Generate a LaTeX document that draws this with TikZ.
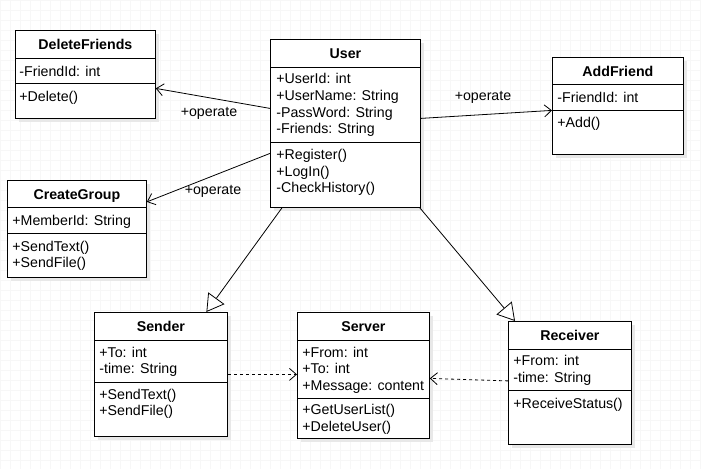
\documentclass[tikz,border=0pt]{standalone}
\usepackage{fontspec}
\setmainfont{Liberation Sans}
\usetikzlibrary{arrows.meta, shadows}

\begin{document}
\begin{tikzpicture}[
    x=1pt, y=-1pt,
    line width=0.8pt,
    font=\fontsize{14.2}{17}\selectfont
  ]

  % Styles
  \tikzstyle{classbox}=[draw, fill=white, anchor=north west, inner sep=0pt, drop shadow={shadow xshift=4pt, shadow yshift=-4pt, fill=black!9, opacity=1}]
  \tikzstyle{classname}=[font=\fontsize{14.2}{17}\selectfont\bfseries, inner sep=0pt, text height=10pt, text depth=0pt, yshift=-14pt]
  \tikzstyle{member}=[anchor=west, inner sep=0pt, text height=10pt, text depth=0pt]
  \tikzstyle{operate}=[-{Straight Barb[length=7pt, width=12pt]}]
  \tikzstyle{inherit}=[-{Triangle[open, length=17pt, width=20pt, fill=white]}]
  \tikzstyle{usage}=[dash pattern=on 3pt off 3pt, -{Straight Barb[length=7pt, width=12pt]}]
  \tikzstyle{rolename}=[inner sep=0pt]

  \useasboundingbox (0,0) rectangle (701,469);
  \fill[white] (0,0) rectangle (701,469);
  \draw[black!3, line width=0.4pt, step=10pt] (0,0) grid (701,469);

  % Class DeleteFriends
  \node[classbox, minimum width=140pt, minimum height=88pt] (delfr) at (15,30) {};
  \node[classname] (delfrT) at (delfr.north) {DeleteFriends};
  \draw (delfr.west |- 0,58) -- (delfr.east |- 0,58);
  \draw (delfr.west |- 0,83) -- (delfr.east |- 0,83);
  \node[member] (delfrA) at (19,71) {-FriendId: int};
  \node[member] (delfrM) at (19,96) {+Delete()};

  % Class CreateGroup
  \node[classbox, minimum width=139pt, minimum height=97pt] (cgroup) at (7,180) {};
  \node[classname] (cgroupT) at (cgroup.north) {CreateGroup};
  \draw (cgroup.west |- 0,207) -- (cgroup.east |- 0,207);
  \draw (cgroup.west |- 0,233) -- (cgroup.east |- 0,233);
  \node[member] (cgroupA) at (12,220) {+MemberId: String};
  \node[member] (cgroupM1) at (12,246) {+SendText()};
  \node[member] (cgroupM2) at (12,262) {+SendFile()};

  % Class User
  \node[classbox, minimum width=150pt, minimum height=168pt] (user) at (270,39) {};
  \node[classname] (userT) at (user.north) {User};
  \draw (user.west |- 0,67) -- (user.east |- 0,67);
  \draw (user.west |- 0,142) -- (user.east |- 0,142);
  \node[member] (userA1) at (276,78) {+UserId: int};
  \node[member] (userA2) at (276,95) {+UserName: String};
  \node[member] (userA3) at (276,112) {-PassWord: String};
  \node[member] (userA4) at (276,128) {-Friends: String};
  \node[member] (userM1) at (276,154) {+Register()};
  \node[member] (userM2) at (276,171) {+LogIn()};
  \node[member] (userM3) at (276,187) {-CheckHistory()};

  % Class AddFriend
  \node[classbox, minimum width=131pt, minimum height=97pt] (addfr) at (552,57) {};
  \node[classname] (addfrT) at (addfr.north) {AddFriend};
  \draw (addfr.west |- 0,84) -- (addfr.east |- 0,84);
  \draw (addfr.west |- 0,110) -- (addfr.east |- 0,110);
  \node[member] (addfrA) at (557,97) {-FriendId: int};
  \node[member] (addfrM) at (557,122) {+Add()};

  % Class Sender
  \node[classbox, minimum width=133pt, minimum height=124pt] (sender) at (94,312) {};
  \node[classname] (senderT) at (sender.north) {Sender};
  \draw (sender.west |- 0,340) -- (sender.east |- 0,340);
  \draw (sender.west |- 0,382) -- (sender.east |- 0,382);
  \node[member] (senderA1) at (99,352) {+To: int};
  \node[member] (senderA2) at (99,368) {-time: String};
  \node[member] (senderM1) at (99,394) {+SendText()};
  \node[member] (senderM2) at (99,410) {+SendFile()};

  % Class Server
  \node[classbox, minimum width=132pt, minimum height=126pt] (server) at (297,312) {};
  \node[classname] (serverT) at (server.north) {Server};
  \draw (server.west |- 0,340) -- (server.east |- 0,340);
  \draw (server.west |- 0,398) -- (server.east |- 0,398);
  \node[member] (serverA1) at (302,352) {+From: int};
  \node[member] (serverA2) at (302,368) {+To: int};
  \node[member] (serverA3) at (302,385) {+Message: content};
  \node[member] (serverM1) at (302,409) {+GetUserList()};
  \node[member] (serverM2) at (302,426) {+DeleteUser()};

  % Class Receiver
  \node[classbox, minimum width=123pt, minimum height=123pt] (recv) at (508,321) {};
  \node[classname] (recvT) at (recv.north) {Receiver};
  \draw (recv.west |- 0,349) -- (recv.east |- 0,349);
  \draw (recv.west |- 0,390) -- (recv.east |- 0,390);
  \node[member] (recvA1) at (513,360) {+From: int};
  \node[member] (recvA2) at (513,377) {-time: String};
  \node[member] (recvM1) at (513,403) {+ReceiveStatus()};

  % Associations from User
  \draw[operate] ([yshift=15pt]user.west) -- ([yshift=-14pt]delfr.east);
  \draw[operate] ([yshift=-30pt]user.west) -- ([yshift=27pt]cgroup.east);
  \draw[operate] ([yshift=5pt]user.east) -- ([yshift=-4.5pt]addfr.east -| addfr.west);
  \node[rolename] (opDel) at (209,113) {+operate};
  \node[rolename] (opGrp) at (213,191) {+operate};
  \node[rolename] (opAdd) at (483,97) {+operate};

  % Generalisations
  \draw[inherit] ([xshift=12pt]user.south west) -- ([xshift=45.5pt]sender.north);
  \draw[inherit] ([xshift=-1pt]user.south east) -- ([xshift=7pt]recv.north west);

  % Dependencies on Server
  \draw[usage] (sender.east) -- (sender.east -| server.west);
  \draw[usage] ([yshift=2pt]recv.west) -- ([yshift=-3pt]server.east);

\end{tikzpicture}
\end{document}
